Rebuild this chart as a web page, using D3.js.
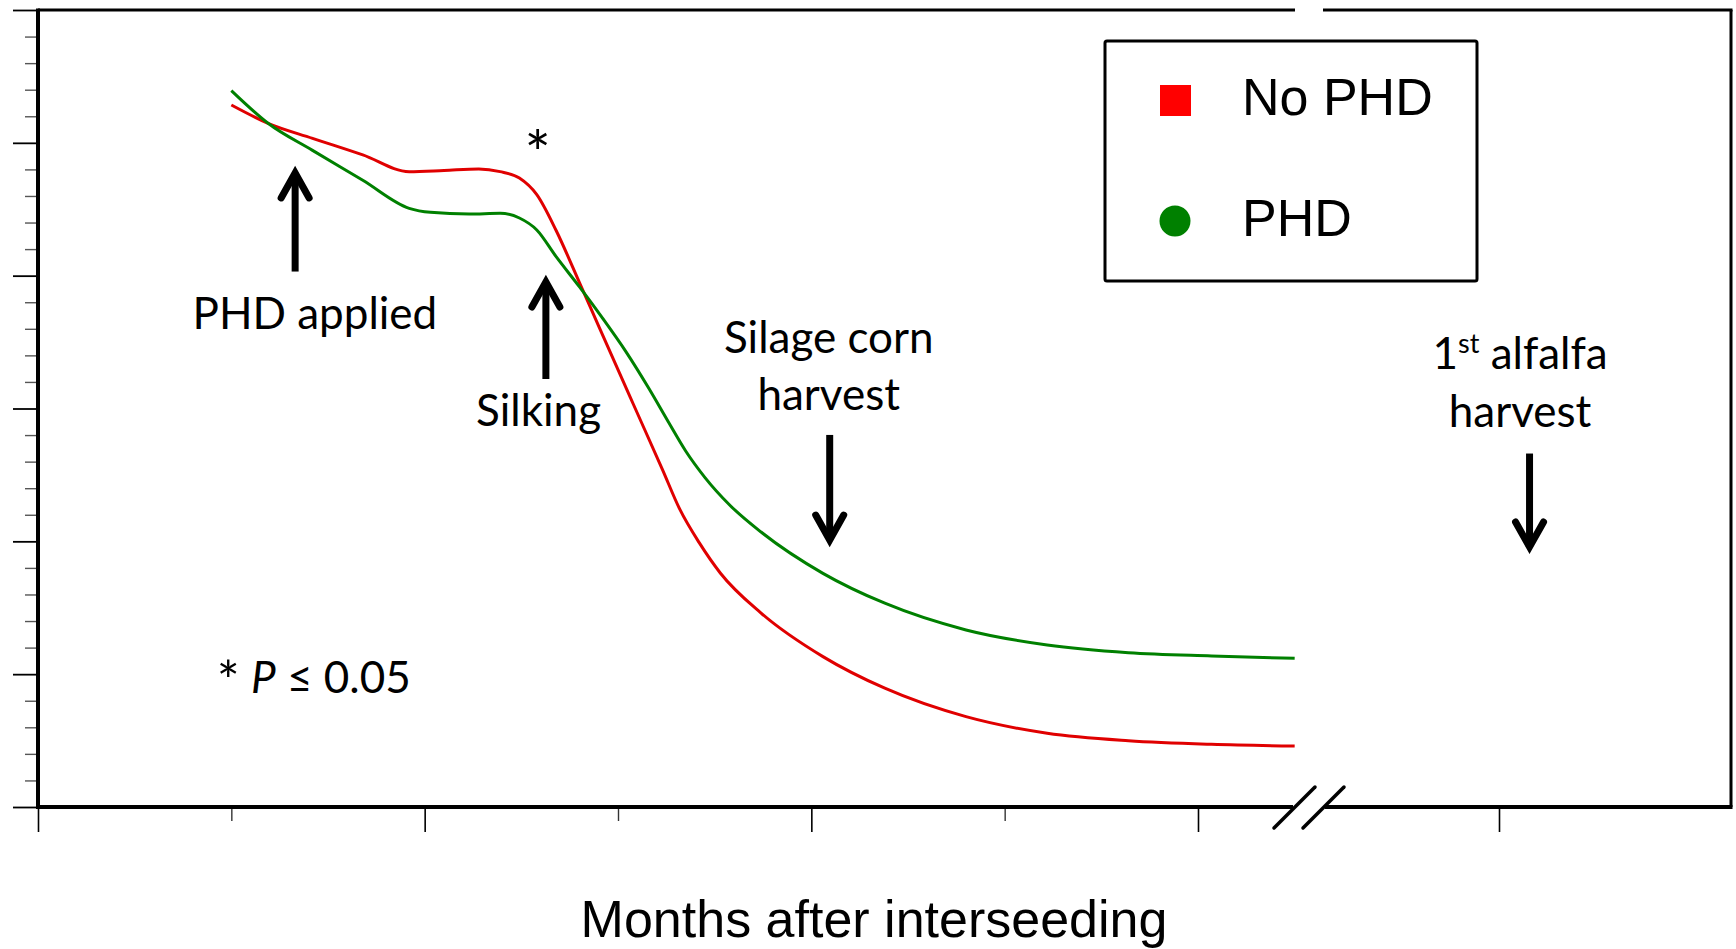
<!DOCTYPE html>
<html><head><meta charset="utf-8">
<script src="https://cdn.jsdelivr.net/npm/d3@7"></script>
<style>body{margin:0;background:#fff}svg{display:block}</style>
</head><body>
<svg id="chart" width="1736" height="949"></svg>
<script>
// ---------- data ----------
const seriesNames = ["No PHD", "PHD"];
const seriesColors = ["#e00000", "#008000"];
const legendColors = ["#ff0000", "#008000"];

const noPhdMonths = [1.00,1.19,1.42,1.68,1.92,2.10,2.28,2.39,2.49,2.58,2.68,2.80,2.90,3.08,3.23,3.32,3.42,3.53,3.74,4.06,4.38,4.80,5.22,5.64,6.07,6.50];
const noPhdValues = [52.85,51.47,50.34,49.09,47.83,47.92,48.03,47.83,47.35,46.1,43.4,39.5,36.2,30.3,25.4,22.4,19.9,17.6,14.6,11.32,8.94,6.80,5.55,4.99,4.72,4.59];

const phdMonths = [1.00,1.19,1.42,1.68,1.92,2.03,2.23,2.39,2.49,2.58,2.68,2.80,2.92,3.04,3.16,3.26,3.35,3.45,3.58,3.74,4.06,4.38,4.80,5.22,5.64,6.07,6.50];
const phdValues = [53.93,51.47,49.43,47.18,45.07,44.77,44.64,44.70,44.34,43.44,41.43,39.17,36.8,34.3,31.5,29.0,26.8,24.8,22.7,20.7,17.59,15.34,13.33,12.20,11.62,11.37,11.19];

const xMajorTicks = [0, 2, 4, 6];
const xMinorTicks = [1, 3, 5];
const xAfterBreakTicks = [10];
const yMajorTicks = [0, 10, 20, 30, 40, 50, 60];
const yMinorTicks = [2,4,6,8,12,14,16,18,22,24,26,28,32,34,36,38,42,44,46,48,52,54,56,58];

const xTitle = "Months after interseeding";

// annotations: arrows (month, tail value, tip value, which scale)
const arrowMonths = [1.33, 2.627, 4.095, 10.158];
const arrowTails  = [40.31, 32.22, 28.01, 26.61];
const arrowTips   = [48.26, 40.05, 19.57, 19.05];
const arrowAfterBreak = [false, false, false, true];

(function () {
// ---------- scales ----------
const svg = d3.select("#chart");
const x = d3.scaleLinear().domain([0, 6]).range([38, 1198]);
const x2 = d3.scaleLinear().domain([9, 11]).range([1499 - 193.3, 1499 + 193.3]);
const y = d3.scaleLinear().domain([0, 60]).range([807, 10]);

const pL = x(0), pT = y(60), pB = y(0), pR = 1731;
const breakL = 1293, breakR = 1325;

// ---------- axes ticks ----------
const g = svg.append("g");
function tickAxis(axis, tr, width, color) {
  const a = g.append("g").attr("transform", tr).call(axis);
  a.select(".domain").remove();
  a.selectAll("text").remove();
  a.selectAll("line").attr("stroke", color).attr("stroke-width", width);
}
tickAxis(d3.axisBottom(x).tickValues(xMajorTicks).tickSize(25).tickFormat(""), `translate(0,${pB})`, 1.6, "#000");
tickAxis(d3.axisBottom(x).tickValues(xMinorTicks).tickSize(14).tickFormat(""), `translate(0,${pB})`, 1.4, "#333");
tickAxis(d3.axisBottom(x2).tickValues(xAfterBreakTicks).tickSize(25).tickFormat(""), `translate(0,${pB})`, 1.6, "#000");
tickAxis(d3.axisLeft(y).tickValues(yMajorTicks).tickSize(25).tickFormat(""), `translate(${pL},0)`, 1.8, "#000");
tickAxis(d3.axisLeft(y).tickValues(yMinorTicks).tickSize(13).tickFormat(""), `translate(${pL},0)`, 1.4, "#555");

// ---------- frame ----------
const frame = svg.append("g").attr("fill", "none").attr("stroke", "#000");
frame.append("line").attr("x1", pL).attr("x2", breakL + 2).attr("y1", pT).attr("y2", pT).attr("stroke-width", 3);
frame.append("line").attr("x1", breakR - 2).attr("x2", pR + 1.5).attr("y1", pT).attr("y2", pT).attr("stroke-width", 3);
frame.append("line").attr("x1", pR).attr("x2", pR).attr("y1", pT).attr("y2", pB).attr("stroke-width", 3);
frame.append("line").attr("x1", pL - 1).attr("x2", breakL).attr("y1", pB).attr("y2", pB).attr("stroke-width", 4);
frame.append("line").attr("x1", breakR).attr("x2", pR + 1.5).attr("y1", pB).attr("y2", pB).attr("stroke-width", 4);
frame.append("line").attr("x1", pL).attr("x2", pL).attr("y1", pT - 1.5).attr("y2", pB + 2).attr("stroke-width", 4);
// break slashes
frame.append("line").attr("x1", 1274).attr("y1", 828).attr("x2", 1315).attr("y2", 787).attr("stroke-width", 3.5).attr("stroke-linecap", "round");
frame.append("line").attr("x1", 1303).attr("y1", 828).attr("x2", 1344).attr("y2", 787).attr("stroke-width", 3.5).attr("stroke-linecap", "round");

// ---------- lines ----------
const line = d3.line().x(d => x(d[0])).y(d => y(d[1])).curve(d3.curveMonotoneX);
const series = [
  d3.zip(noPhdMonths, noPhdValues),
  d3.zip(phdMonths, phdValues)
];
svg.append("g").selectAll("path").data(series).join("path")
  .attr("d", line).attr("fill", "none")
  .attr("stroke", (d, i) => seriesColors[i]).attr("stroke-width", 3)
  .attr("stroke-linejoin", "round");

// ---------- arrows ----------
const ag = svg.append("g").attr("stroke", "#000").attr("fill", "none");
arrowMonths.forEach((m, i) => {
  const px = arrowAfterBreak[i] ? x2(m) : x(m);
  const tail = y(arrowTails[i]), tip = y(arrowTips[i]);
  const dir = tip < tail ? -1 : 1;
  const join = tip - dir * 7;
  const p = d3.path();
  p.moveTo(px, tail); p.lineTo(px, join);
  ag.append("path").attr("d", p.toString()).attr("stroke-width", 7);
  const h = d3.path();
  h.moveTo(px - 14, join - dir * 25); h.lineTo(px, join); h.lineTo(px + 14, join - dir * 25);
  ag.append("path").attr("d", h.toString()).attr("stroke-width", 7)
    .attr("stroke-linejoin", "miter").attr("stroke-miterlimit", 10).attr("stroke-linecap", "round");
});

// ---------- annotation texts ----------
const af = "Lato, 'Open Sans', sans-serif";
const ann = svg.append("g").attr("font-family", af).attr("font-size", 44).attr("fill", "#000").attr("text-anchor", "middle");
ann.append("text").attr("x", x(1.432)).attr("y", y(35.99)).text("PHD applied");
ann.append("text").attr("x", x(2.589)).attr("y", y(28.72)).text("Silking");
ann.append("text").attr("x", x(4.090)).attr("y", y(34.16)).text("Silage corn");
ann.append("text").attr("x", x(4.090)).attr("y", y(29.89)).text("harvest");
const t1 = ann.append("text").attr("x", x2(10.109)).attr("y", y(32.94));
t1.append("tspan").text("1");
t1.append("tspan").attr("font-size", 27).attr("dy", -16).text("st");
t1.append("tspan").attr("dy", 16).text(" alfalfa");
ann.append("text").attr("x", x2(10.109)).attr("y", y(28.57)).text("harvest");
ann.append("text").attr("x", x(2.584)).attr("y", y(47.5)).attr("font-size", 62).text("*");
const pt = ann.append("text").attr("text-anchor", "start").attr("x", x(0.925)).attr("y", y(8.58));
pt.append("tspan").attr("font-size", 54).attr("dy", 7).text("*");
pt.append("tspan").attr("dy", -7).text(" ");
pt.append("tspan").attr("font-style", "italic").text("P");
pt.append("tspan").text(" \u2264 0.05");

// ---------- legend ----------
const lg = svg.append("g");
lg.append("rect").attr("x", 1105).attr("y", 41).attr("width", 372).attr("height", 240).attr("rx", 2)
  .attr("fill", "#fff").attr("stroke", "#000").attr("stroke-width", 3);
lg.append("rect").attr("x", 1160).attr("y", 85).attr("width", 31).attr("height", 31).attr("fill", legendColors[0]);
lg.append("circle").attr("cx", 1175).attr("cy", 221).attr("r", 15.5).attr("fill", legendColors[1]);
lg.selectAll("text.lab").data(seriesNames).join("text").attr("class", "lab")
  .attr("x", 1242).attr("y", (d, i) => i === 0 ? 115 : 236)
  .attr("font-family", "'Liberation Sans', Arial, sans-serif").attr("font-size", 52)
  .text(d => d);

// ---------- axis title ----------
svg.append("text").attr("x", 874).attr("y", 937).attr("text-anchor", "middle")
  .attr("font-family", "'Liberation Sans', Arial, sans-serif").attr("font-size", 52)
  .text(xTitle);
})();
</script>
</body></html>
